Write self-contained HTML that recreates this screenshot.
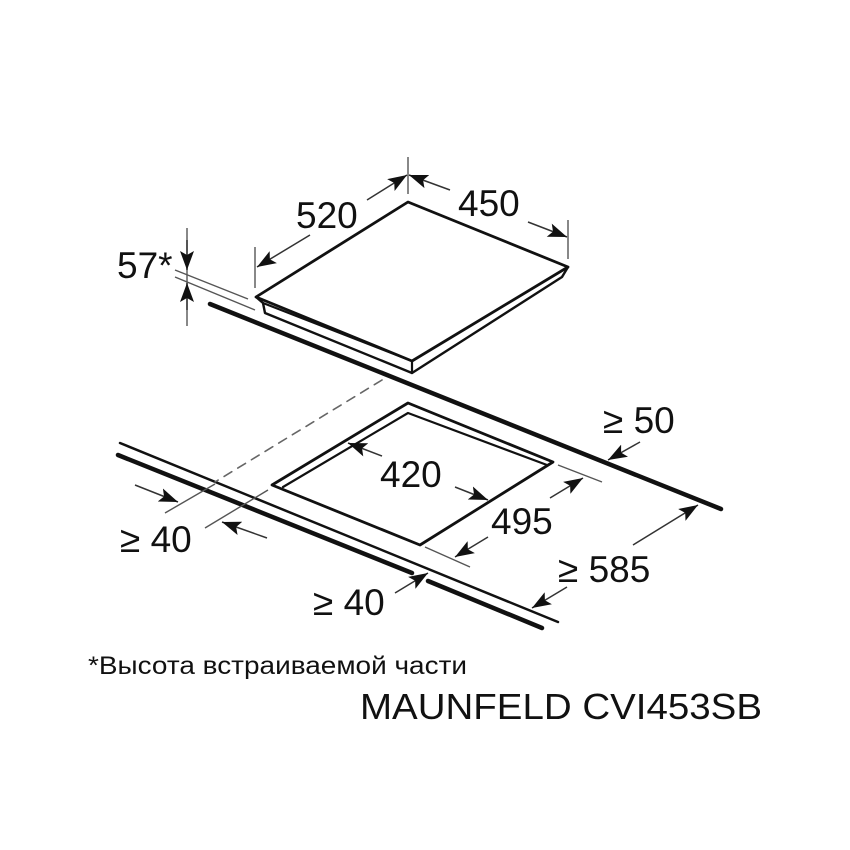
<!DOCTYPE html>
<html><head><meta charset="utf-8"><style>
html,body{margin:0;padding:0;background:#fff;}
svg{display:block;}
text{font-family:"Liberation Sans",sans-serif;fill:#111;}
</style></head><body>
<svg width="850" height="850" viewBox="0 0 850 850" xmlns="http://www.w3.org/2000/svg">
<defs>
<marker id="a" markerUnits="userSpaceOnUse" markerWidth="22" markerHeight="16" refX="19" refY="8" orient="auto">
<polygon points="0,1 19,8 0,15 4,8" fill="#111"/>
</marker>
</defs>
<g fill="none" stroke="#111" stroke-linejoin="round" stroke-linecap="round">
<path d="M256,297 L408,202 L568,267 L412,361 Z" stroke-width="2.8"/>
<path d="M256,297 L263,303 L265,313 L412,373 L562,277 L568,267" stroke-width="2.4"/>
<path d="M263,303 L412,361 L412,373" stroke-width="2.2"/>
<line x1="210" y1="304" x2="721" y2="509" stroke-width="4.5"/>
<line x1="120" y1="443" x2="558" y2="622" stroke-width="2.5"/>
<line x1="118" y1="455" x2="412" y2="573" stroke-width="4.5"/>
<line x1="428" y1="581" x2="542" y2="628" stroke-width="4.5"/>
<line x1="382" y1="380" x2="215" y2="482" stroke="#666" stroke-width="1.6" stroke-dasharray="9,7"/>
<path d="M272,485 L408,403 L553,462 L420,545 Z" stroke-width="2.8"/>
<path d="M283,487 L408,413 L547,465" stroke-width="2.2"/>
</g>
<g fill="none" stroke="#555" stroke-width="1.4">
<line x1="255" y1="247" x2="255" y2="288"/>
<line x1="408" y1="157" x2="408" y2="194"/>
<line x1="568" y1="220" x2="568" y2="259"/>
<line x1="187" y1="228" x2="187" y2="326"/>
<line x1="175" y1="270" x2="248" y2="299"/>
<line x1="175" y1="277" x2="255" y2="310"/>
<line x1="558" y1="465" x2="602" y2="482"/>
<line x1="425" y1="547" x2="470" y2="567"/>
<line x1="165" y1="513" x2="215" y2="484"/>
<line x1="205" y1="528" x2="268" y2="490"/>
</g>
<g stroke="#333" stroke-width="1.5" fill="none">
<line x1="310" y1="235" x2="257" y2="267" marker-end="url(#a)"/>
<line x1="367" y1="200" x2="407" y2="175" marker-end="url(#a)"/>
<line x1="450" y1="190" x2="409" y2="175" marker-end="url(#a)"/>
<line x1="528" y1="222" x2="567" y2="237" marker-end="url(#a)"/>
<line x1="187" y1="240" x2="187" y2="270" marker-end="url(#a)"/>
<line x1="187" y1="310" x2="187" y2="283" marker-end="url(#a)"/>
<line x1="382" y1="456" x2="348" y2="443" marker-end="url(#a)"/>
<line x1="455" y1="487" x2="488" y2="500" marker-end="url(#a)"/>
<line x1="550" y1="498" x2="583" y2="478" marker-end="url(#a)"/>
<line x1="488" y1="537" x2="455" y2="557" marker-end="url(#a)"/>
<line x1="640" y1="442" x2="608" y2="460" marker-end="url(#a)"/>
<line x1="633" y1="545" x2="698" y2="505" marker-end="url(#a)"/>
<line x1="567" y1="587" x2="532" y2="608" marker-end="url(#a)"/>
<line x1="135" y1="485" x2="178" y2="502" marker-end="url(#a)"/>
<line x1="267" y1="538" x2="222" y2="522" marker-end="url(#a)"/>
<line x1="395" y1="593" x2="428" y2="573" marker-end="url(#a)"/>
</g>
<g font-size="37">
<text x="296" y="228">520</text>
<text x="458" y="216">450</text>
<text x="117" y="278">57*</text>
<text x="380" y="487">420</text>
<text x="491" y="534">495</text>
<text x="603" y="433">≥ 50</text>
<text x="558" y="582">≥ 585</text>
<text x="120" y="552">≥ 40</text>
<text x="313" y="615">≥ 40</text>
</g>
<text x="88" y="674" font-size="25" textLength="379" lengthAdjust="spacingAndGlyphs">*Высота встраиваемой части</text>
<text x="360" y="719" font-size="36" textLength="402" lengthAdjust="spacingAndGlyphs">MAUNFELD CVI453SB</text>
</svg>
</body></html>
